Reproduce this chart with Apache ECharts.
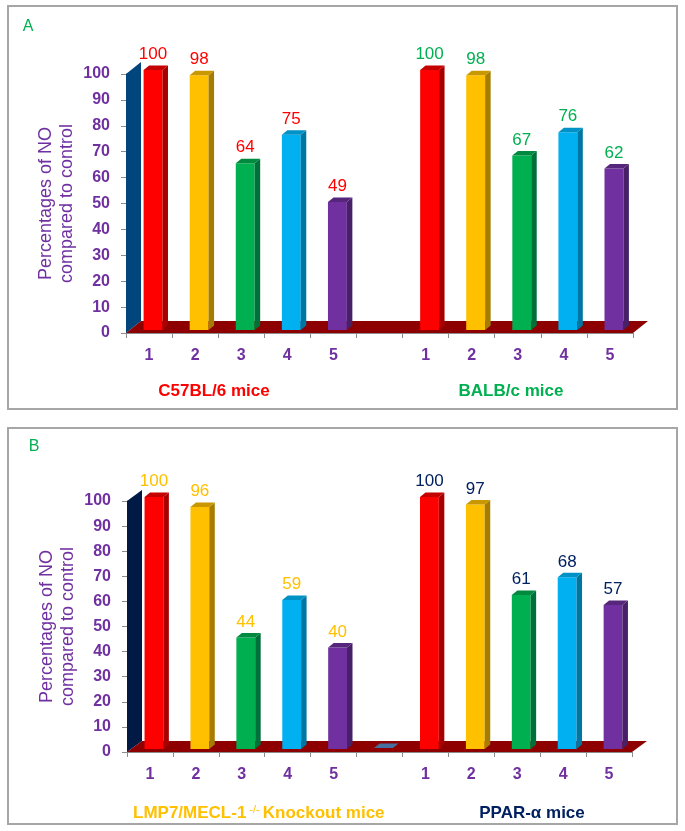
<!DOCTYPE html>
<html>
<head>
<meta charset="utf-8">
<title>NO chart</title>
<style>
  html, body { margin: 0; padding: 0; background: #fff; }
  #chart { width: 685px; height: 831px; }
</style>
<script src="https://cdn.jsdelivr.net/npm/echarts@6/dist/echarts.min.js"></script>
</head>
<body>
<div id="chart"></div>
<script>
// slot index 5 is the gap between the two groups of mice
const categories = ['1', '2', '3', '4', '5', '', '1', '2', '3', '4', '5'];
const leftSlots = [0, 1, 2, 3, 4];
const rightSlots = [6, 7, 8, 9, 10];
const gapSlot = [5];

const c57Values = [100, 98, 64, 75, 49];
const balbValues = [100, 98, 67, 76, 62];
const lmpValues = [100, 96, 44, 59, 40];
const pparValues = [100, 97, 61, 68, 57];
const gapValues = [0];

const yTicks = { min: 0, max: 100, interval: 10 };

const barFront = ['#FF0000', '#FFC000', '#00B050', '#00B0F0', '#7030A0'];
const barSide = ['#A80000', '#A67D00', '#00703A', '#0076A3', '#482068'];
const barTop = ['#C40000', '#C99700', '#008A40', '#0091C6', '#56267C'];
const purple = '#7030A0';
const floorColor = '#8E0000';

const DX = 5.5, DY = 4.5;

function poly(points, fill) {
  return { type: 'polygon', shape: { points: points }, style: { fill: fill } };
}

// fake 3D bars, everything hangs off the axis scale
function barSeries(axisIndex, slots, values, labelColor, colors) {
  return {
    type: 'custom',
    xAxisIndex: axisIndex,
    yAxisIndex: axisIndex,
    z: 3,
    clip: false,
    data: slots.map((s, i) => [s, values[i], i]),
    renderItem: function (params, api) {
      const slot = api.value(0), val = api.value(1), i = api.value(2);
      const base = api.coord([slot, 0]);
      const top = api.coord([slot, val]);
      const w = api.size([1, 0])[0] * 0.41;
      const xl = base[0] + 4 - w / 2, xr = xl + w;
      const yb = base[1] - 3, yt = top[1] - 4;
      const kids = [];
      if (val > 0) {
        kids.push({ type: 'rect', shape: { x: xl, y: yt, width: w, height: yb - yt }, style: { fill: colors.front[i] } });
        kids.push(poly([[xr, yb], [xr, yt], [xr + DX, yt - DY], [xr + DX, yb - DY]], colors.side[i]));
      }
      kids.push(poly([[xl, yt], [xr, yt], [xr + DX, yt - DY], [xl + DX, yt - DY]], colors.top[i]));
      if (labelColor) {
        kids.push({
          type: 'text',
          style: {
            text: String(val), x: xl + w / 2, y: yt - DY - 11,
            fill: labelColor, font: '17px "Liberation Sans", Arial, sans-serif',
            align: 'center', verticalAlign: 'middle'
          }
        });
      }
      return { type: 'group', children: kids };
    }
  };
}

// back wall and floor
function stageSeries(axisIndex, wallColor, wallRise) {
  return {
    type: 'custom',
    xAxisIndex: axisIndex,
    yAxisIndex: axisIndex,
    z: 2,
    clip: false,
    data: [[0, 0]],
    renderItem: function (params) {
      const c = params.coordSys;
      const b = c.y + c.height, d = 15;
      return {
        type: 'group',
        children: [
          poly([[c.x, c.y], [c.x + d, c.y - wallRise], [c.x + d, b - wallRise], [c.x, b]], wallColor),
          poly([[c.x, b], [c.x + d, b - wallRise], [c.x + c.width + d, b - wallRise], [c.x + c.width, b]], floorColor)
        ]
      };
    }
  };
}

function cartesianAxes(index) {
  return {
    x: {
      type: 'category', gridIndex: index, data: categories, boundaryGap: true,
      axisLine: { show: true, lineStyle: { color: '#8c8c8c', width: 1 } },
      axisTick: { show: true, alignWithLabel: false, length: 5, lineStyle: { color: '#8c8c8c' } },
      axisLabel: { interval: 0, color: purple, fontSize: 16, margin: 15, fontWeight: 'bold', fontFamily: 'Liberation Sans' },
      splitLine: { show: false }
    },
    y: {
      type: 'value', gridIndex: index, min: yTicks.min, max: yTicks.max, interval: yTicks.interval,
      name: 'Percentages of NO\ncompared to control',
      nameLocation: 'middle', nameGap: 48, nameRotate: 90, nameMoveOverlap: false,
      nameTextStyle: { color: purple, fontSize: 18, lineHeight: 21, fontFamily: 'Liberation Sans' },
      axisLine: { show: true, lineStyle: { color: '#8c8c8c', width: 1 } },
      axisTick: { show: true, length: 5, lineStyle: { color: '#8c8c8c' } },
      axisLabel: { color: purple, fontSize: 16, margin: 16, fontWeight: 'bold', fontFamily: 'Liberation Sans' },
      splitLine: { show: false }
    }
  };
}

function frame(x, y, w, h) {
  return { type: 'rect', shape: { x: x, y: y, width: w, height: h }, style: { fill: 'none', stroke: '#a6a6a6', lineWidth: 2 }, z: 0 };
}

function note(text, x, y, color, weight, size) {
  return {
    type: 'text', x: x, y: y, z: 5,
    style: {
      text: text, fill: color, align: 'center', verticalAlign: 'middle',
      font: (weight || 'normal') + ' ' + (size || 16) + 'px "Liberation Sans", Arial, sans-serif'
    }
  };
}

const colors = { front: barFront, side: barSide, top: barTop };
const gapColors = { front: ['#46709E'], side: ['#46709E'], top: ['#46709E'] };
const axesA = cartesianAxes(0), axesB = cartesianAxes(1);

const chart = echarts.init(document.getElementById('chart'));
chart.setOption({
  animation: false,
  backgroundColor: '#fff',
  grid: [
    { left: 126, top: 74, width: 507, height: 259 },
    { left: 127, top: 501, width: 505, height: 251 }
  ],
  xAxis: [axesA.x, axesB.x],
  yAxis: [axesA.y, axesB.y],
  series: [
    stageSeries(0, '#00467C', 12),
    barSeries(0, leftSlots, c57Values, '#FF0000', colors),
    barSeries(0, rightSlots, balbValues, '#00B050', colors),
    stageSeries(1, '#001A45', 11),
    barSeries(1, gapSlot, gapValues, null, gapColors),
    barSeries(1, leftSlots, lmpValues, '#FFC000', colors),
    barSeries(1, rightSlots, pparValues, '#002060', colors)
  ],
  graphic: [
    frame(8, 6, 669, 403),
    frame(8, 428, 669, 396),
    note('A', 28, 27, '#00B050'),
    note('B', 34, 447, '#00B050'),
    note('C57BL/6 mice', 214, 391, '#FF0000', 'bold', 17),
    note('BALB/c mice', 511, 391, '#00B050', 'bold', 17),
    {
      type: 'text', x: 133, y: 813, z: 5,
      style: {
        text: '{t|LMP7/MECL-1}{s|-/-}{t|Knockout mice}',
        verticalAlign: 'middle',
        rich: {
          t: { fill: '#FFC000', fontSize: 17, fontWeight: 'bold', fontFamily: 'Liberation Sans' },
          s: { fill: '#FFC000', fontSize: 11, verticalAlign: 'top', fontFamily: 'Liberation Sans', padding: [0, 3, 6, 3] }
        }
      }
    },
    note('PPAR-\u03b1 mice', 532, 813, '#002060', 'bold', 17)
  ]
});
</script>
</body>
</html>
